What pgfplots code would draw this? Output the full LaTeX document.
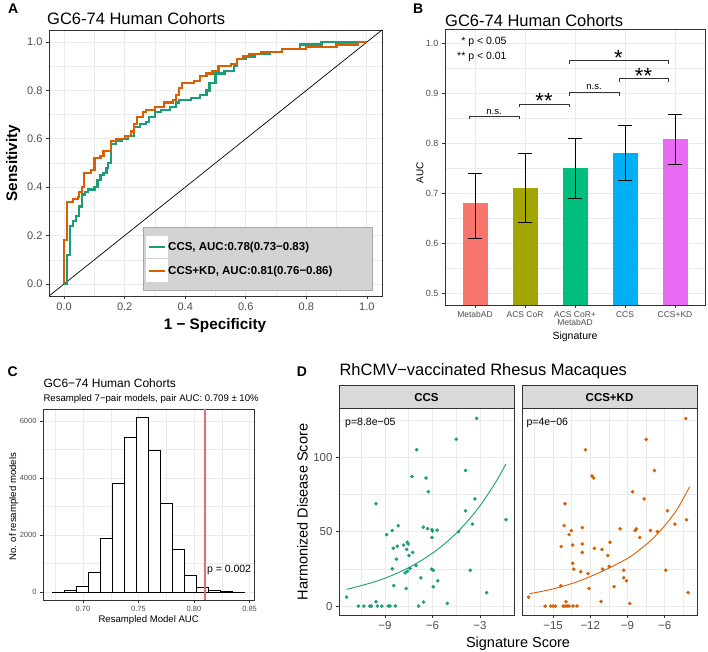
\documentclass[border=0pt]{standalone}
\usepackage{fontspec}
\setmainfont{Liberation Sans}
\usepackage{pgfplots}
\pgfplotsset{compat=1.18}
\newcommand{\fs}[1]{\fontsize{#1}{#1}\selectfont}
\definecolor{dgreen}{HTML}{1B9E77}
\definecolor{dorange}{HTML}{D95F02}
\definecolor{grid92}{HTML}{EBEBEB}
\definecolor{grey20}{HTML}{333333}
\definecolor{grey30}{HTML}{4D4D4D}
\definecolor{c1}{HTML}{F8766D}
\definecolor{c2}{HTML}{A3A500}
\definecolor{c3}{HTML}{00BF7D}
\definecolor{c4}{HTML}{00B0F6}
\definecolor{c5}{HTML}{E76BF3}
\definecolor{strip}{HTML}{D9D9D9}
\definecolor{leggrey}{HTML}{D3D3D3}
\definecolor{legborder}{HTML}{A8A8A8}
\definecolor{vlinered}{rgb}{0.89,0.43,0.43}
\pgfplotsset{
  ggbw/.style={
    scale only axis,
    anchor=south west,
    axis line style={grey20, line width=0.9pt},
    grid=both,
    major grid style={grid92, line width=0.8pt},
    minor grid style={grid92, line width=0.45pt},
    tick align=outside,
    tick pos=left,
    major tick length=3pt,
    minor tick length=0pt,
    tick style={grey20, line width=0.7pt},
    scaled ticks=false,
    /pgf/number format/assume math mode=true,
    ticklabel style={text=grey30},
  },
  errb/.style={error bars/.cd, y dir=both, y explicit, error bar style={black, line width=0.75pt},
    error mark options={rotate=90, mark size=7pt, line width=0.75pt, black}},
}
\begin{document}
\begin{tikzpicture}
\useasboundingbox (0pt,0pt) rectangle (708pt,651pt);

% ---------------- Panel A ----------------
\begin{axis}[ggbw, at={(49pt,355pt)}, width=333pt, height=266pt,
  xmin=-0.05, xmax=1.05, ymin=-0.05, ymax=1.05,
  xtick={0,0.2,0.4,0.6,0.8,1}, minor xtick={0.1,0.3,0.5,0.7,0.9},
  ytick={0,0.2,0.4,0.6,0.8,1}, minor ytick={0.1,0.3,0.5,0.7,0.9},
  ticklabel style={font=\fs{11}, /pgf/number format/.cd, fixed, fixed zerofill, precision=1},
  legend style={at={(0.2913,0.1397)}, anchor=west, fill=none, draw=none, inner sep=0pt, outer sep=0pt,
    font=\bfseries\fs{11.5}, row sep=1.3pt, nodes={inner sep=0pt},
    /tikz/every even column/.append style={column sep=3.3pt}},
  legend cell align=left,
  legend image code/.code={\fill[white] (0pt,-10.2pt) rectangle (20pt,10.2pt); \draw[#1] (1.5pt,0pt) -- (18pt,0pt);},
]
\addplot[black, line width=0.7pt, forget plot] coordinates {(-0.05,-0.05) (1.05,1.05)};
\addplot[dgreen, line width=2.2pt, const plot] coordinates {
(0,0) (0.01,0.12) (0.02,0.24) (0.03,0.26) (0.04,0.28) (0.05,0.32) (0.06,0.37) (0.07,0.38) (0.08,0.39)
(0.10,0.40) (0.11,0.43) (0.12,0.45) (0.13,0.46) (0.14,0.48) (0.145,0.50) (0.155,0.58) (0.17,0.59)
(0.19,0.60) (0.21,0.61) (0.23,0.65) (0.25,0.66) (0.27,0.67) (0.28,0.69) (0.30,0.71) (0.32,0.72)
(0.35,0.73) (0.37,0.75) (0.38,0.76) (0.42,0.77) (0.45,0.78) (0.47,0.80) (0.48,0.83) (0.50,0.87)
(0.53,0.88) (0.56,0.90) (0.57,0.93) (0.60,0.94) (0.63,0.95) (0.68,0.96) (0.72,0.97) (0.78,0.99)
(0.85,1.0) (1.0,1.0)};
\addlegendentry{CCS, AUC:0.78(0.73−0.83)}
\addplot[dorange, line width=2.2pt, const plot] coordinates {
(0,0) (0,0.18) (0.01,0.34) (0.03,0.35) (0.045,0.36) (0.05,0.38) (0.06,0.40) (0.065,0.46) (0.09,0.47)
(0.10,0.52) (0.12,0.53) (0.13,0.55) (0.155,0.59) (0.17,0.60) (0.20,0.61) (0.22,0.63) (0.23,0.66)
(0.24,0.69) (0.26,0.71) (0.27,0.72) (0.30,0.73) (0.33,0.75) (0.36,0.76) (0.37,0.78) (0.38,0.81)
(0.39,0.83) (0.43,0.84) (0.45,0.86) (0.47,0.87) (0.49,0.88) (0.51,0.90) (0.55,0.91) (0.57,0.93)
(0.59,0.94) (0.61,0.95) (0.65,0.96) (0.72,0.97) (0.80,0.98) (0.90,0.99) (0.97,1.0) (1.0,1.0)};
\addlegendentry{CCS+KD, AUC:0.81(0.76−0.86)}
\draw[fill=leggrey, draw=legborder, line width=0.6pt] (rel axis cs:0.2823,0.0226) rectangle (rel axis cs:0.9705,0.259);
\end{axis}
\node[anchor=base west, inner sep=0pt, font=\bfseries\fs{14}] at (8pt,637.7pt) {A};
\node[anchor=base west, inner sep=0pt, font=\fs{16.5}] at (47pt,626pt) {GC6-74 Human Cohorts};
\node[anchor=base, inner sep=0pt, rotate=90, font=\bfseries\fs{15.3}] at (17pt,487.7pt) {Sensitivity};
\node[anchor=base, inner sep=0pt, font=\bfseries\fs{15.3}] at (215pt,321.7pt) {1 − Specificity};

% ---------------- Panel B ----------------
\begin{axis}[ggbw, at={(445pt,346pt)}, width=260pt, height=276pt,
  xmin=-0.6, xmax=4.6, ymin=0.476, ymax=1.028,
  xtick={0,1,2,3,4}, xticklabels={MetabAD, ACS CoR, {ACS CoR+\\MetabAD}, CCS, CCS+KD},
  xticklabel style={align=center, font=\fs{8.5}},
  ytick={0.5,0.6,0.7,0.8,0.9,1.0}, minor ytick={0.55,0.65,0.75,0.85,0.95},
  yticklabel style={font=\fs{9}, /pgf/number format/.cd, fixed, fixed zerofill, precision=1},
]
\addplot[ybar, bar width=0.5, bar shift=0pt, fill=c1, draw=none, errb]
  coordinates {(0,0.68) += (0,0.06) -= (0,0.07)};
\addplot[ybar, bar width=0.5, bar shift=0pt, fill=c2, draw=none, errb]
  coordinates {(1,0.71) += (0,0.07) -= (0,0.069)};
\addplot[ybar, bar width=0.5, bar shift=0pt, fill=c3, draw=none, errb]
  coordinates {(2,0.75) += (0,0.06) -= (0,0.06)};
\addplot[ybar, bar width=0.5, bar shift=0pt, fill=c4, draw=none, errb]
  coordinates {(3,0.78) += (0,0.055) -= (0,0.055)};
\addplot[ybar, bar width=0.5, bar shift=0pt, fill=c5, draw=none, errb]
  coordinates {(4,0.808) += (0,0.049) -= (0,0.05)};
% significance brackets
\addplot[grey20, line width=0.8pt] coordinates {(-0.12,0.847) (-0.12,0.853) (0.88,0.853) (0.88,0.847)};
\addplot[grey20, line width=0.8pt] coordinates {(0.88,0.872) (0.88,0.878) (1.88,0.878) (1.88,0.872)};
\addplot[grey20, line width=0.8pt] coordinates {(1.88,0.894) (1.88,0.901) (2.88,0.901) (2.88,0.894)};
\addplot[grey20, line width=0.8pt] coordinates {(2.88,0.922) (2.88,0.930) (3.86,0.930) (3.86,0.922)};
\addplot[grey20, line width=0.8pt] coordinates {(1.88,0.958) (1.88,0.965) (3.86,0.965) (3.86,0.958)};
\node[anchor=base, inner sep=0pt, font=\fs{9.5}] at (axis cs:0.38,0.857) {n.s.};
\node[anchor=base, inner sep=0pt, font=\fs{22}] at (axis cs:1.38,0.868) {**};
\node[anchor=base, inner sep=0pt, font=\fs{9.5}] at (axis cs:2.38,0.906) {n.s.};
\node[anchor=base, inner sep=0pt, font=\fs{22}] at (axis cs:3.37,0.918) {**};
\node[anchor=base, inner sep=0pt, font=\fs{22}] at (axis cs:2.87,0.955) {*};
\node[anchor=east, inner sep=0pt, font=\fs{10.5}] at (axis cs:0.634,1.003) {* p < 0.05};
\node[anchor=east, inner sep=0pt, font=\fs{10.5}] at (axis cs:0.634,0.973) {** p < 0.01};
\end{axis}
\node[anchor=base west, inner sep=0pt, font=\bfseries\fs{14}] at (413pt,637pt) {B};
\node[anchor=base west, inner sep=0pt, font=\fs{16.5}] at (445pt,624.3pt) {GC6-74 Human Cohorts};
\node[anchor=base, inner sep=0pt, rotate=90, font=\fs{10}] at (423.3pt,478.3pt) {AUC};
\node[anchor=base, inner sep=0pt, font=\fs{10.5}] at (575pt,311.7pt) {Signature};

% ---------------- Panel C ----------------
\begin{axis}[ggbw, at={(43pt,51pt)}, width=211pt, height=191pt,
  xmin=0.664, xmax=0.854, ymin=-280, ymax=6421,
  xtick={0.70,0.75,0.80,0.85}, minor xtick={0.675,0.725,0.775,0.825},
  ytick={0,2000,4000,6000}, minor ytick={1000,3000,5000},
  xticklabel style={font=\fs{7.5}, /pgf/number format/.cd, fixed, fixed zerofill, precision=2},
  yticklabel style={font=\fs{7.5}, /pgf/number format/.cd, 1000 sep={}},
]
\addplot[ybar interval, fill=white, draw=black, line width=0.7pt] coordinates {
(0.6724,3) (0.6832,47) (0.6940,187) (0.7049,680) (0.7157,1895) (0.7265,3800) (0.7373,5417)
(0.7482,6131) (0.7590,4973) (0.7698,3100) (0.7806,1498) (0.7914,585) (0.8023,164) (0.8131,47)
(0.8239,12) (0.8347,3) (0.8455,0)};
\addplot[draw=vlinered, line width=1.5pt, mark=none] coordinates {(0.81,-280) (0.81,6421)};
\node[anchor=west, inner sep=0pt, font=\fs{10.5}] at (axis cs:0.8115,772) {p = 0.002};
\end{axis}
\node[anchor=base west, inner sep=0pt, font=\bfseries\fs{14}] at (7.3pt,274.3pt) {C};
\node[anchor=base west, inner sep=0pt, font=\fs{12}] at (43.3pt,263.3pt) {GC6−74 Human Cohorts};
\node[anchor=base west, inner sep=0pt, font=\fs{9.6}] at (43.3pt,249.3pt) {Resampled 7−pair models, pair AUC: 0.709 ± 10\%};
\node[anchor=base, inner sep=0pt, rotate=90, font=\fs{9.6}] at (16.2pt,144.3pt) {No. of resampled models};
\node[anchor=base, inner sep=0pt, font=\fs{9.6}] at (148.7pt,28.7pt) {Resampled Model AUC};

% ---------------- Panel D ----------------
\begin{axis}[ggbw, at={(339pt,36pt)}, width=175pt, height=207pt,
  xmin=-11.9, xmax=-0.85, ymin=-6, ymax=133,
  xtick={-9,-6,-3}, xticklabels={−9,−6,−3}, minor xtick={-10.5,-7.5,-4.5,-1.5},
  ytick={0,50,100}, minor ytick={25,75,125},
  ticklabel style={font=\fs{11.5}},
]
\addplot[only marks, mark=*, mark size=1.6pt, dgreen] coordinates {
(-11.42,6) (-10.68,0) (-10.33,0) (-9.95,0) (-9.86,0) (-9.48,0) (-9.19,0) (-8.79,0) (-8.68,0) (-8.35,0)
(-6.87,0) (-9.57,68.7) (-9.57,2.9) (-8.89,48) (-8.54,50.7) (-8.16,54) (-8.47,38.8) (-8.22,40.2)
(-8.28,31.5) (-8.54,25) (-8.45,13.8) (-7.82,41) (-7.59,42.9) (-7.53,41.7) (-7.63,38) (-7.25,36)
(-7.48,34) (-7.72,22.3) (-7.57,23.4) (-7.42,25.2) (-7.04,27.2) (-7.65,11.8) (-7.29,87) (-7.0,105)
(-6.73,19) (-6.56,2.7) (-6.58,53) (-6.31,52) (-6.41,86) (-6.26,76.8) (-6.03,46) (-6.03,51.3)
(-6.0,50.4) (-5.70,51) (-6.05,24.8) (-5.95,24.1) (-5.95,13) (-5.67,17) (-5.06,1.8) (-4.50,112)
(-3.91,91) (-4.35,50) (-3.91,64) (-3.32,72) (-3.48,55) (-3.61,24) (-3.21,126) (-2.58,9) (-1.36,58)};
\addplot[dgreen, line width=0.9pt, smooth] coordinates {
(-11.42,11.2) (-10,15.2) (-9,18.7) (-8,23.2) (-7,28.7) (-6,35.5) (-5,43.9) (-4,54.4) (-3,67.3) (-2,83.3) (-1.36,95.5)};
\node[anchor=base west, inner sep=0pt, font=\fs{10.5}] at (axis cs:-11.52,121.5) {p=8.8e−05};
\end{axis}
\begin{axis}[ggbw, at={(522pt,36pt)}, width=175pt, height=207pt,
  xmin=-17.5, xmax=-3.4, ymin=-6, ymax=133,
  xtick={-15,-12,-9,-6}, xticklabels={−15,−12,−9,−6}, minor xtick={-16.5,-13.5,-10.5,-7.5,-4.5},
  ytick={0,50,100}, minor ytick={25,75,125}, yticklabels={}, ytick style={draw=none},
  ticklabel style={font=\fs{11.5}},
]
\addplot[only marks, mark=*, mark size=1.6pt, dorange] coordinates {
(-16.96,6) (-15.64,0) (-15.19,0) (-15.0,0) (-14.81,0) (-14.19,0) (-14.03,0) (-13.87,0) (-13.71,0)
(-13.39,0) (-13.07,0) (-13.95,2.9) (-14.03,68.7) (-14.11,54) (-13.71,48) (-13.52,50.7) (-14.33,40)
(-13.41,41) (-12.64,52.7) (-12.64,41.7) (-12.64,36) (-13.41,28.8) (-13.33,24.8) (-12.77,23)
(-14.38,13.6) (-12.39,105) (-11.86,87.3) (-11.72,86) (-11.67,38.8) (-12.18,21.9) (-12.10,11.8)
(-11.05,38) (-11.0,24.8) (-11.13,3.1) (-10.59,34) (-10.48,26.6) (-10.41,42.9) (-9.60,51.8)
(-10.08,13) (-9.30,24.1) (-9.30,19) (-9.09,17) (-8.82,1.8) (-8.60,76.8) (-8.39,50.7) (-8.28,51.8)
(-8.01,46) (-7.66,72) (-7.50,112) (-7.15,50.7) (-6.83,91) (-6.59,50) (-5.78,64) (-5.92,24)
(-5.19,55) (-4.31,126) (-4.25,58) (-4.12,9)};
\addplot[dorange, line width=0.9pt, smooth] coordinates {
(-16.9,8.3) (-15,11.5) (-13,16.5) (-11,23.5) (-9,32) (-8,38) (-7,45) (-6,54) (-5,65) (-4,80)};
\node[anchor=base west, inner sep=0pt, font=\fs{10.5}] at (axis cs:-17.15,121.5) {p=4e−06};
\end{axis}
\filldraw[fill=strip, draw=grey20, line width=0.9pt] (339pt,243pt) rectangle (514pt,266pt);
\filldraw[fill=strip, draw=grey20, line width=0.9pt] (522pt,243pt) rectangle (697pt,266pt);
\node[anchor=base, inner sep=0pt, font=\bfseries\fs{11.5}] at (426.5pt,250pt) {CCS};
\node[anchor=base, inner sep=0pt, font=\bfseries\fs{11.5}] at (609.5pt,250pt) {CCS+KD};
\node[anchor=base west, inner sep=0pt, font=\bfseries\fs{14}] at (296.7pt,274.3pt) {D};
\node[anchor=base west, inner sep=0pt, font=\fs{16.5}] at (339.3pt,276pt) {RhCMV−vaccinated Rhesus Macaques};
\node[anchor=base, inner sep=0pt, rotate=90, font=\fs{14.5}] at (307.7pt,139pt) {Harmonized Disease Score};
\node[anchor=base, inner sep=0pt, font=\fs{14.5}] at (518pt,3.7pt) {Signature Score};
\end{tikzpicture}
\end{document}
